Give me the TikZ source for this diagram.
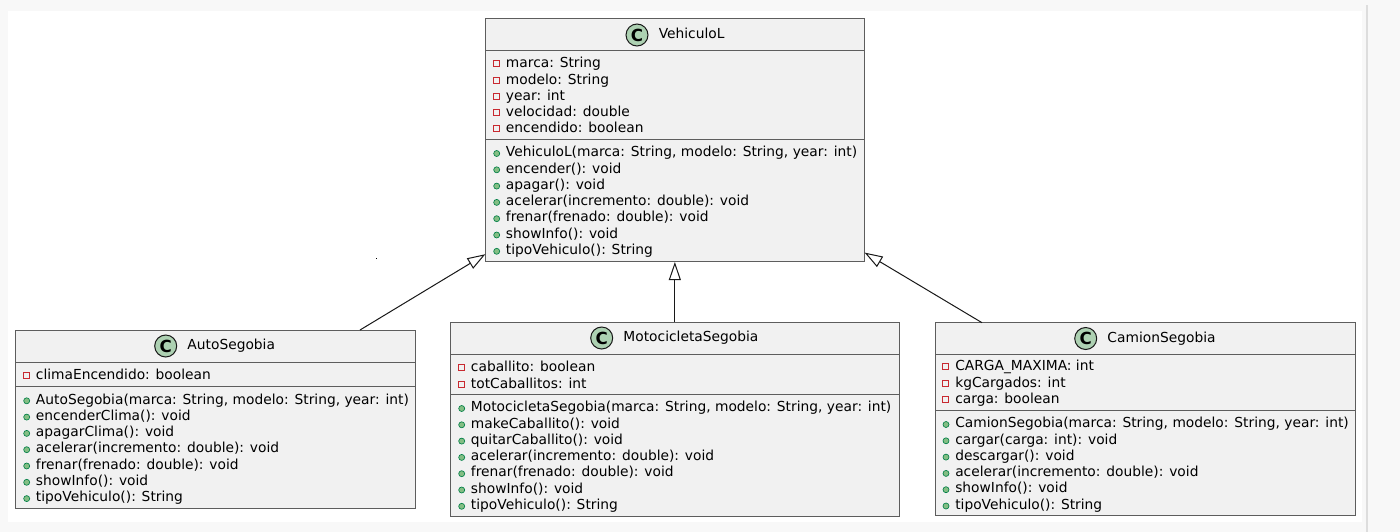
\documentclass[tikz,border=0pt]{standalone}
\usepackage{fontspec}
\setmainfont{DejaVu Sans}
\usetikzlibrary{arrows.meta,fit,positioning}
\definecolor{umlfill}{HTML}{F1F1F1}
\definecolor{umlline}{HTML}{181818}
\definecolor{iconfill}{HTML}{ADD1B2}
\definecolor{privred}{HTML}{C82930}
\definecolor{pubfill}{HTML}{84BE84}
\definecolor{publine}{HTML}{038048}
\definecolor{pagegray}{HTML}{F8F8F8}
\definecolor{shadowgray}{HTML}{DDDDDD}
\tikzset{
  classbox/.style={draw=umlline!70, line width=0.5pt, fill=umlfill, inner sep=0pt},
  classicon/.style={circle, draw=umlline, line width=0.75pt, fill=iconfill, minimum size=16.5pt, inner sep=0pt, font=\fontsize{12.5}{13}\selectfont\bfseries},
  classname/.style={anchor=west, inner sep=0pt, text height=7.9pt, text depth=2.5pt, font=\fontsize{10.35}{12}\selectfont},
  member/.style={anchor=base west, inner sep=0pt, font=\fontsize{10.35}{12}\selectfont},
  sepline/.style={draw=umlline!70, line width=0.5pt},
  privmark/.style={draw=privred, line width=0.75pt},
  pubmark/.style={draw=publine, fill=pubfill, line width=0.5pt},
  extends/.style={draw=umlline, line width=0.75pt, -{Triangle[open, length=13.5pt, width=9pt]}},
}
% one row of a compartment: (left edge, baseline){text}{name}
\def\attrrow(#1,#2)#3#4{\draw[privmark] (#1+7.3,#2-7) rectangle (#1+13.3,#2-1); \node[member] (#4) at (#1+20,#2) {#3};}
\def\operrow(#1,#2)#3#4{\draw[pubmark] (#1+11,#2-3.2) circle (2.25pt); \node[member] (#4) at (#1+20,#2) {#3};}

\begin{document}
\begin{tikzpicture}[x=0.75pt,y=-0.75pt]
  %%%%% START %%%%%
  \useasboundingbox (0,0) rectangle (1400,532);
  \fill[pagegray] (0,0) rectangle (1400,532);
  \fill[white] (8,10.5) rectangle (1361.5,521.5);
  \fill[shadowgray] (1365.5,5) rectangle (1367.5,532);

  % VehiculoL
  \node[classbox, fit={(485.7,18.3) (864.3,261.7)}] (veh) {};
  \draw[sepline] (485.7,50) -- (864.3,50);
  \draw[sepline] (485.7,139) -- (864.3,139);
  \node[classicon] (veh-c) at (637,35) {C};
  \node[classname, right=7.5pt of veh-c] (veh-n) {VehiculoL};
  \foreach \t [count=\i from 0] in {{marca: String},{modelo: String},{year: int},{velocidad: double},{encendido: boolean}}
    {\attrrow(485.7,67.7+16.3*\i){\t}{veh-a\i}}
  \foreach \t [count=\i from 0] in {{VehiculoL(marca: String, modelo: String, year: int)},{encender(): void},{apagar(): void},{acelerar(incremento: double): void},{frenar(frenado: double): void},{showInfo(): void},{tipoVehiculo(): String}}
    {\operrow(485.7,156.7+16.3*\i){\t}{veh-m\i}}

  % AutoSegobia
  \node[classbox, fit={(15.7,330) (415,508.3)}] (auto) {};
  \draw[sepline] (15.7,362) -- (415,362);
  \draw[sepline] (15.7,386) -- (415,386);
  \node[classicon] (auto-c) at (165.7,346) {C};
  \node[classname, right=7.5pt of auto-c] (auto-n) {AutoSegobia};
  \attrrow(15.7,379.7){climaEncendido: boolean}{auto-a0}
  \foreach \t [count=\i from 0] in {{AutoSegobia(marca: String, modelo: String, year: int)},{encenderClima(): void},{apagarClima(): void},{acelerar(incremento: double): void},{frenar(frenado: double): void},{showInfo(): void},{tipoVehiculo(): String}}
    {\operrow(15.7,404+16.3*\i){\t}{auto-m\i}}

  % MotocicletaSegobia
  \node[classbox, fit={(450.7,322.3) (899,516)}] (moto) {};
  \draw[sepline] (450.7,354) -- (899,354);
  \draw[sepline] (450.7,394) -- (899,394);
  \node[classicon] (moto-c) at (601.7,338) {C};
  \node[classname, right=7.5pt of moto-c] (moto-n) {MotocicletaSegobia};
  \foreach \t [count=\i from 0] in {{caballito: boolean},{totCaballitos: int}}
    {\attrrow(450.7,371.7+16.3*\i){\t}{moto-a\i}}
  \foreach \t [count=\i from 0] in {{MotocicletaSegobia(marca: String, modelo: String, year: int)},{makeCaballito(): void},{quitarCaballito(): void},{acelerar(incremento: double): void},{frenar(frenado: double): void},{showInfo(): void},{tipoVehiculo(): String}}
    {\operrow(450.7,411.7+16.3*\i){\t}{moto-m\i}}

  % CamionSegobia
  \node[classbox, fit={(935,322.7) (1355.7,515.7)}] (cam) {};
  \draw[sepline] (935,354.3) -- (1355.7,354.3);
  \draw[sepline] (935,410) -- (1355.7,410);
  \node[classicon] (cam-c) at (1085.7,338.5) {C};
  \node[classname, right=7.5pt of cam-c] (cam-n) {CamionSegobia};
  \foreach \t [count=\i from 0] in {{CARGA\_MAXIMA: int},{kgCargados: int},{carga: boolean}}
    {\attrrow(935,370.7+16.3*\i){\t}{cam-a\i}}
  \foreach \t [count=\i from 0] in {{CamionSegobia(marca: String, modelo: String, year: int)},{cargar(carga: int): void},{descargar(): void},{acelerar(incremento: double): void},{showInfo(): void},{tipoVehiculo(): String}}
    {\operrow(935,427.7+16.3*\i){\t}{cam-m\i}}

  % generalisations
  \coordinate (auto-top) at (360,330);
  \coordinate (cam-top) at (982,322.7);
  \draw[extends] (auto-top) -- (veh);
  \draw[extends] (moto.north) -- (moto.north |- veh.south);
  \draw[extends] (cam-top) -- (veh);
  \fill[black] (375.5,257.5) rectangle (377,259);
  %%%%% END %%%%%
\end{tikzpicture}
\end{document}
